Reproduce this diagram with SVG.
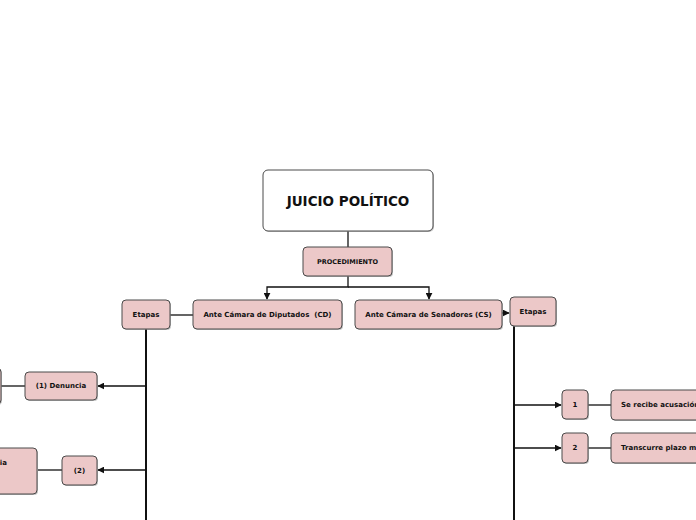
<svg xmlns="http://www.w3.org/2000/svg" width="696" height="520" viewBox="0 0 696 520">
<style>
.n{fill:#ecc8c8;stroke:#4a4a4a;stroke-width:1}
.w{fill:#ffffff;stroke:#4a4a4a;stroke-width:1}
.s{fill:#9a9a9a;opacity:0.6}
.t{font-family:"DejaVu Sans",Verdana,sans-serif;font-weight:bold;font-size:7px;fill:#111;text-anchor:middle;dominant-baseline:central}
.c{fill:none;stroke:#111;stroke-width:1.3}
.v{fill:none;stroke:#111;stroke-width:2}
</style>
<defs>
<marker id="ah" viewBox="0 0 10 10" refX="9" refY="5" markerWidth="7" markerHeight="7" markerUnits="userSpaceOnUse" orient="auto">
<path d="M0,0 L10,5 L0,10 z" fill="#111"/>
</marker>
</defs>
<rect width="696" height="520" fill="#ffffff"/>
<g id="connectors">
<path class="c" d="M348,231 V247"/>
<path class="c" d="M348,276 V287 H267 V299" marker-end="url(#ah)"/>
<path class="c" d="M348,287 H429 V299" marker-end="url(#ah)"/>
<path class="c" d="M170,315 H193"/>
<path class="c" d="M502,313 H509" marker-end="url(#ah)"/>
<path class="v" d="M146,329 V520"/>
<path class="v" d="M514,326 V520"/>
<path class="c" d="M146,386 H98" marker-end="url(#ah)"/>
<path class="c" d="M25,386 H1"/>
<path class="c" d="M146,470 H98" marker-end="url(#ah)"/>
<path class="c" d="M62,470 H38"/>
<path class="c" d="M514,405 H561" marker-end="url(#ah)"/>
<path class="c" d="M588,405 H611"/>
<path class="c" d="M514,448 H561" marker-end="url(#ah)"/>
<path class="c" d="M588,448 H611"/>
</g>
<g id="juicio">
<rect class="s" x="264" y="171" width="170" height="61" rx="5"/>
<rect class="w" x="263" y="170" width="170" height="61" rx="5"/>
<text class="t" x="348" y="200.5" style="font-size:13.5px">JUICIO POLÍTICO</text>
</g>
<g id="procedimiento">
<rect class="s" x="304" y="248" width="89" height="29" rx="4"/>
<rect class="n" x="303" y="247" width="89" height="29" rx="4"/>
<text class="t" x="347.5" y="261.5" style="font-size:6.5px">PROCEDIMIENTO</text>
</g>
<g id="diputados">
<rect class="s" x="194" y="301" width="149" height="29" rx="4"/>
<rect class="n" x="193" y="300" width="149" height="29" rx="4"/>
<text class="t" x="267.5" y="314.5" xml:space="preserve">Ante Cámara de Diputados  (CD)</text>
</g>
<g id="senadores">
<rect class="s" x="356" y="301" width="147" height="29" rx="4"/>
<rect class="n" x="355" y="300" width="147" height="29" rx="4"/>
<text class="t" x="428.5" y="314.5">Ante Cámara de Senadores (CS)</text>
</g>
<g id="etapas-cd">
<rect class="s" x="123" y="301" width="48" height="29" rx="4"/>
<rect class="n" x="122" y="300" width="48" height="29" rx="4"/>
<text class="t" x="146" y="314.5">Etapas</text>
</g>
<g id="etapas-cs">
<rect class="s" x="511" y="298" width="46" height="29" rx="4"/>
<rect class="n" x="510" y="297" width="46" height="29" rx="4"/>
<text class="t" x="533" y="311.5">Etapas</text>
</g>
<g id="denuncia">
<rect class="s" x="26" y="373" width="72" height="28" rx="4"/>
<rect class="n" x="25" y="372" width="72" height="28" rx="4"/>
<text class="t" x="61" y="386">(1) Denuncia</text>
</g>
<g id="denuncia-detalle">
<rect class="s" x="-99" y="369" width="101" height="36" rx="4"/>
<rect class="n" x="-100" y="368" width="101" height="36" rx="4"/>
</g>
<g id="paso2">
<rect class="s" x="63" y="457" width="35" height="29" rx="4"/>
<rect class="n" x="62" y="456" width="35" height="29" rx="4"/>
<text class="t" x="79.5" y="470.5">(2)</text>
</g>
<g id="paso2-detalle">
<rect class="s" x="-99" y="449" width="137" height="46" rx="4"/>
<rect class="n" x="-100" y="448" width="137" height="46" rx="4"/>
<text class="t" x="7" y="463" style="text-anchor:end">Comisión que investiga la denuncia</text>
</g>
<g id="cs1">
<rect class="s" x="563" y="391" width="26" height="29" rx="4"/>
<rect class="n" x="562" y="390" width="26" height="29" rx="4"/>
<text class="t" x="575" y="405">1</text>
</g>
<g id="cs1-detalle">
<rect class="s" x="612" y="391" width="140" height="30" rx="4"/>
<rect class="n" x="611" y="390" width="140" height="30" rx="4"/>
<text class="t" x="621" y="405" style="text-anchor:start">Se recibe acusación</text>
</g>
<g id="cs2">
<rect class="s" x="563" y="434" width="26" height="30" rx="4"/>
<rect class="n" x="562" y="433" width="26" height="30" rx="4"/>
<text class="t" x="575" y="448">2</text>
</g>
<g id="cs2-detalle">
<rect class="s" x="612" y="434" width="140" height="30" rx="4"/>
<rect class="n" x="611" y="433" width="140" height="30" rx="4"/>
<text class="t" x="621" y="448" style="text-anchor:start">Transcurre plazo m</text>
</g>
</svg>
